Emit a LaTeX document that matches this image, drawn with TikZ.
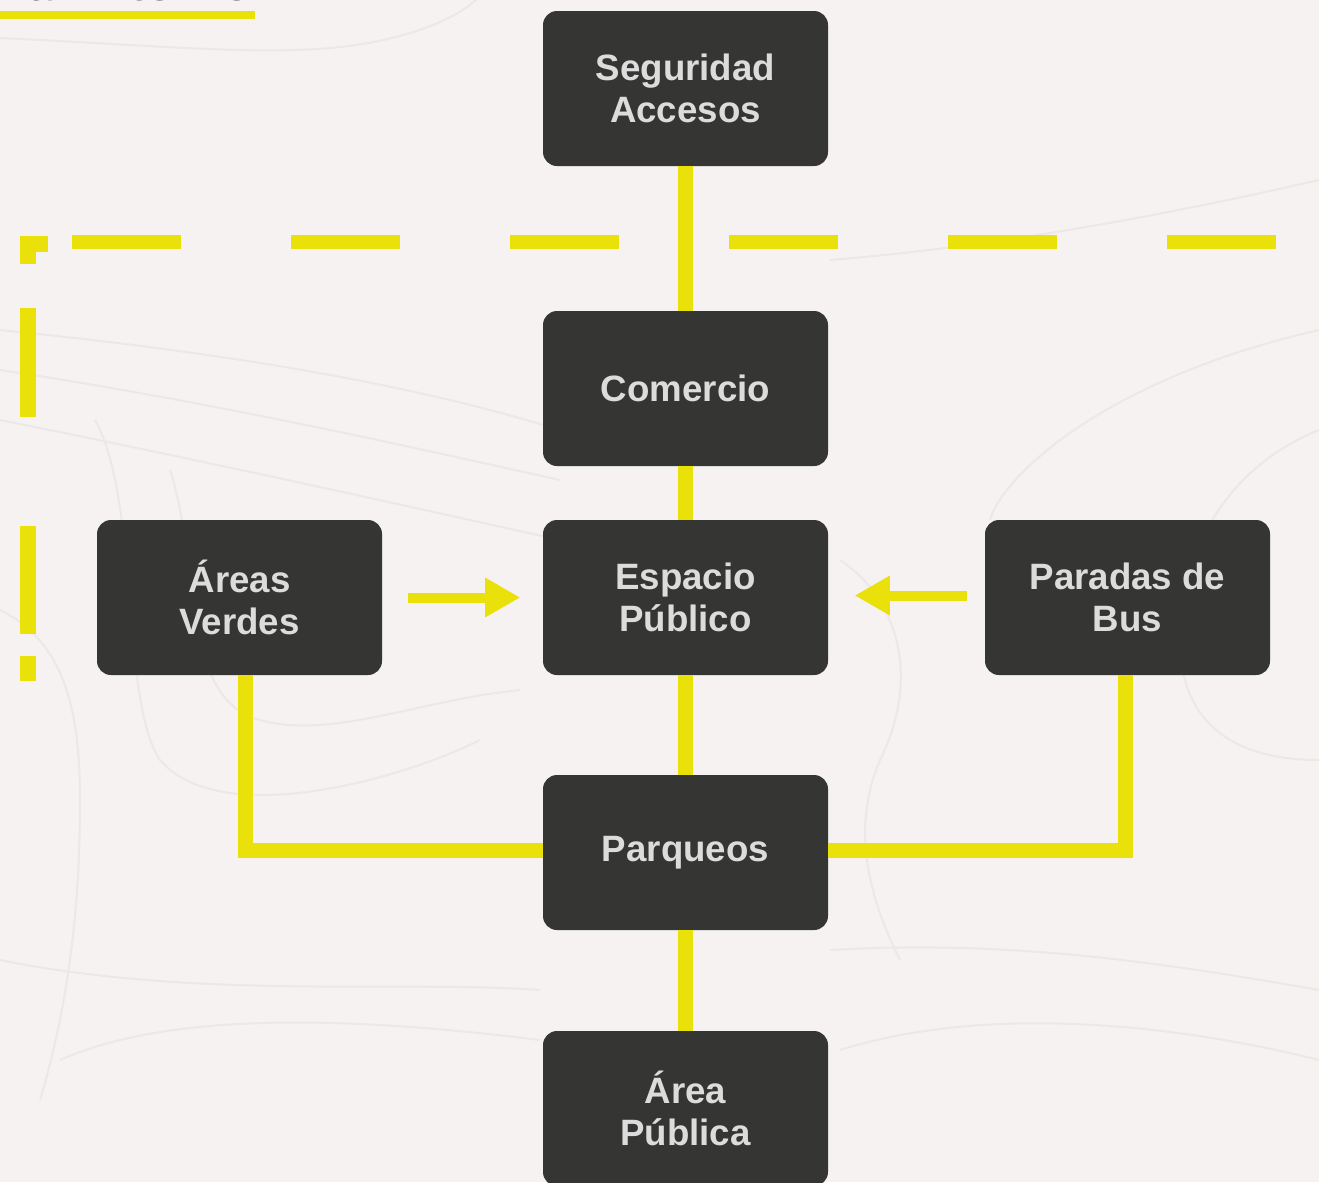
\documentclass[tikz,border=0pt]{standalone}
\usepackage{fontspec}
\setmainfont{Liberation Sans}
\usetikzlibrary{arrows.meta}
\definecolor{bg}{HTML}{F5F2F1}
\definecolor{boxc}{HTML}{353533}
\definecolor{txtc}{HTML}{DCDCDC}
\definecolor{ylw}{HTML}{EAE00A}
\definecolor{contour}{HTML}{ECE8E6}
\begin{document}
\begin{tikzpicture}[x=0.75pt,y=-0.75pt,
 blk/.style={fill=boxc, rounded corners=10.5pt, minimum width=213.75pt, minimum height=116.25pt,
   text=txtc, font=\fontsize{27.5}{31.5}\selectfont\bfseries, align=center, inner sep=0pt},
 link/.style={draw=ylw, line width=11.25pt},
 flow/.style={draw=ylw, line width=7.5pt, -{Triangle[length=26pt,width=30pt,line width=0pt]}},
 dashseg/.style={draw=ylw, line width=10.5pt},
 cornerseg/.style={draw=ylw, line width=12pt},
 topo/.style={draw=contour, line width=1.5pt}
]
\useasboundingbox (0,0) rectangle (1319,1182);
\clip (0,0) rectangle (1319,1182);
\fill[bg] (0,0) rectangle (1319,1182);

% faint contour lines
\draw[topo] (0,38) .. controls (150,45) and (250,55) .. (330,48) .. controls (420,40) and (470,10) .. (480,-5);
\draw[topo] (0,330) .. controls (200,350) and (400,380) .. (560,430);
\draw[topo] (0,370) .. controls (200,400) and (380,440) .. (560,480);
\draw[topo] (0,420) .. controls (200,460) and (380,500) .. (560,540);
\draw[topo] (0,610) .. controls (60,640) and (80,700) .. (80,800) .. controls (80,900) and (70,1000) .. (40,1100);
\draw[topo] (95,420) .. controls (140,500) and (120,700) .. (160,760) .. controls (220,830) and (400,780) .. (480,740);
\draw[topo] (170,470) .. controls (200,560) and (180,700) .. (260,720) .. controls (330,740) and (420,700) .. (520,690);
\draw[topo] (840,560) .. controls (900,600) and (920,680) .. (880,760) .. controls (850,830) and (870,900) .. (900,960);
\draw[topo] (1319,430) .. controls (1220,470) and (1180,560) .. (1180,640) .. controls (1180,720) and (1230,760) .. (1319,760);
\draw[topo] (1319,330) .. controls (1100,380) and (1000,480) .. (990,520);
\draw[topo] (830,260) .. controls (950,250) and (1100,230) .. (1319,180);
\draw[topo] (0,960) .. controls (200,1000) and (400,980) .. (540,990);
\draw[topo] (840,1050) .. controls (1000,1000) and (1200,1030) .. (1319,1060);
\draw[topo] (60,1060) .. controls (150,1020) and (300,1010) .. (540,1040);
\draw[topo] (830,950) .. controls (1000,940) and (1150,960) .. (1319,990);

% title fragment and underline
\node[anchor=base east, font=\fontsize{36}{40}\selectfont\bfseries, text=boxc, inner sep=0pt] (title) at (252,0) {Zona Entorno};
\draw[draw=ylw, line width=6pt] (0,14.5) -- (255,14.5);

% dashed boundary
\foreach \a in {72,291,510,729,948,1167} \draw[dashseg] (\a,242) -- ++(109,0);
\draw[cornerseg, line join=miter] (48,244) -- (28,244) -- (28,264);
\draw[cornerseg] (28,308) -- (28,417);
\draw[cornerseg] (28,526) -- (28,634);
\draw[cornerseg] (28,656) -- (28,681);

% nodes
\node[blk] (sa) at (685.5,88.5) {Seguridad\\Accesos};
\node[blk] (co) at (685.5,388.5) {Comercio};
\node[blk] (ep) at (685.5,597.5) {Espacio\\Público};
\node[blk] (av) at (239.5,597.5) {Áreas\\Verdes};
\node[blk] (pb) at (1127.5,597.5) {Paradas de\\Bus};
\node[blk] (pq) at (685.5,852.5) {Parqueos};
\node[blk] (ap) at (685.5,1108.5) {Área\\Pública};

% connectors
\draw[link] (sa) -- (co);
\draw[link] (co) -- (ep);
\draw[link] (ep) -- (pq);
\draw[link] (pq) -- (ap);
\draw[link, line join=miter] ([xshift=4.5pt]av.south) |- ([yshift=1.5pt]pq.west);
\draw[link, line join=miter] ([xshift=-1.5pt]pb.south) |- ([yshift=1.5pt]pq.east);
\draw[flow, shorten <=19.5pt, shorten >=17.25pt] (av) -- (ep);
\draw[flow, shorten <=13.5pt, shorten >=20.25pt] ([yshift=1.5pt]pb.west) -- ([yshift=1.5pt]ep.east);
\end{tikzpicture}
\end{document}
